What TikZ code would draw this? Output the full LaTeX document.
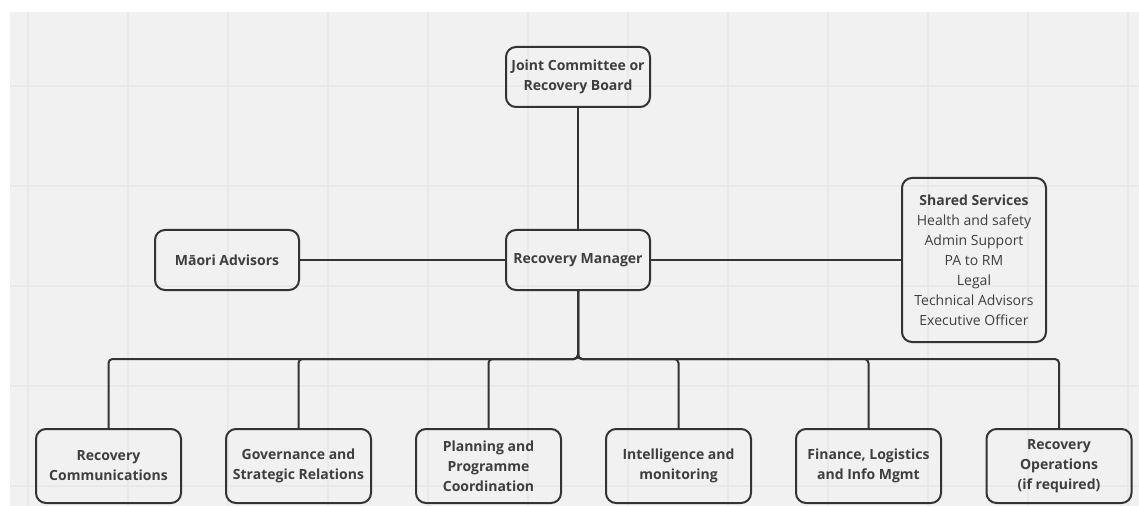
\documentclass[tikz,border=0pt]{standalone}
\usepackage{fontspec}
\setmainfont{Open Sans}
\usetikzlibrary{positioning}
\definecolor{bggrey}{RGB}{241,241,241}
\definecolor{gridgrey}{RGB}{233,233,233}
\definecolor{inkgrey}{RGB}{51,51,51}
\definecolor{txtgrey}{RGB}{62,62,62}

\begin{document}
\begin{tikzpicture}[x=0.75pt,y=-0.75pt]
\tikzstyle{every node}+=[inner sep=0pt, text=txtgrey]
\tikzstyle{unit}=[draw=inkgrey, line width=1.5pt, rounded corners=7.5pt, minimum width=108pt, minimum height=45pt, align=center, font=\fontsize{10.5}{15}\selectfont\bfseries]
\tikzstyle{team}=[unit, minimum width=108.75pt, minimum height=55.5pt]
\tikzstyle{link}=[draw=inkgrey, line width=1.5pt, rounded corners=3pt]
\useasboundingbox (0,0) rectangle (1139,506);
% background and grid
\fill[white] (0,0) rectangle (1139,506);
\fill[bggrey] (10,12) rectangle (1139,506);
\begin{scope}
\clip (10,12) rectangle (1139,506);
\foreach \gx in {28,128,...,1128} \draw[gridgrey, line width=1.2pt] (\gx,12) -- (\gx,506);
\foreach \gy in {86,186,...,486} \draw[gridgrey, line width=1.2pt] (10,\gy) -- (1139,\gy);
\end{scope}
% top levels
\node[unit] (board) at (578,77) {Joint Committee or\\Recovery Board};
\node[unit] (rm) at (578,260) {Recovery Manager};
\node[unit] (maori) at (227,260) {Māori Advisors};
\node[unit, minimum height=123pt, font=\fontsize{10.5}{15}\selectfont] (shared) at (974,260)
  {\textbf{Shared Services}\\Health and safety\\Admin Support\\PA to RM\\Legal\\Technical Advisors\\Executive Officer};
% teams
\node[team] (comms) at (108.5,466) {Recovery\\Communications};
\node[team] (gov) at (298.5,466) {Governance and\\Strategic Relations};
\node[team] (plan) at (488.5,466) {Planning and\\Programme\\Coordination};
\node[team] (intel) at (678.5,466) {Intelligence and\\monitoring};
\node[team] (fin) at (868.5,466) {Finance, Logistics\\and Info Mgmt};
\node[team] (ops) at (1059,466) {Recovery\\Operations\\(if required)};
\coordinate (bus) at (578,359);
% links
\draw[link] (board) -- (rm);
\draw[link] (maori) -- (rm);
\draw[link] (rm) -- (shared);
\foreach \t in {comms,gov,plan,intel,fin,ops}
  \draw[link] (rm.south) -- (bus) -| (\t.north);
\end{tikzpicture}
\end{document}
